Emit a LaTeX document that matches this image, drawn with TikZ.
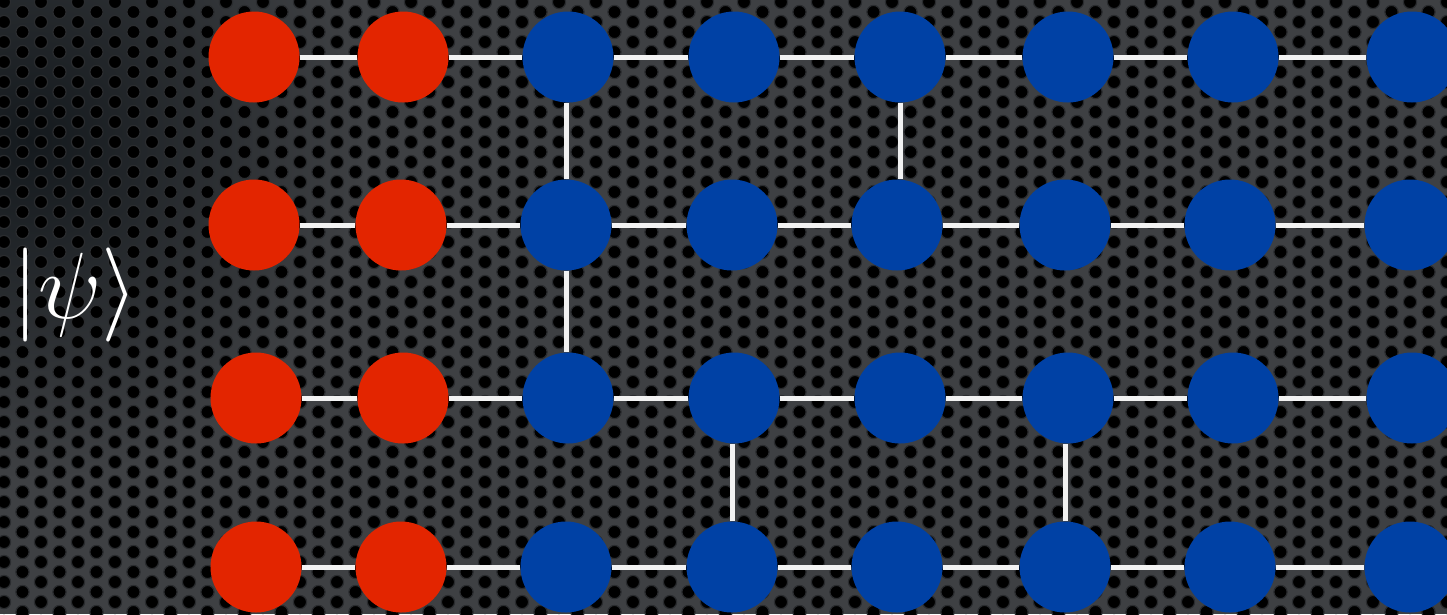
\documentclass[tikz,border=0pt]{standalone}
\usepackage{xcolor}
\definecolor{bgbase}{HTML}{3E4043}
\definecolor{bgdark}{HTML}{14191D}
\definecolor{holerim}{HTML}{2A2C2F}
\definecolor{qred}{HTML}{E32500}
\definecolor{qblue}{HTML}{0041A5}
\definecolor{bond}{HTML}{F2F2F2}
\tikzset{
  qubit/.style={circle, minimum size=91pt, inner sep=0pt, draw=none},
  redq/.style={qubit, fill=qred},
  blueq/.style={qubit, fill=qblue},
  bondline/.style={draw=bond, line width=5pt},
  hole/.style={fill=black, draw=holerim, line width=1.2pt},
}
\begin{document}
\begin{tikzpicture}[x=1pt,y=-1pt]
\useasboundingbox (0,0) rectangle (1447,614);
% background plate
\fill[bgbase] (0,0) rectangle (1447,614);
\begin{scope}
  \clip (0,0) rectangle (1447,614);
  \shade[inner color=bgdark, outer color=bgbase] (30,140) circle (340);
  \foreach \i in {0,...,79}{
    \pgfmathsetmacro{\off}{mod(\i,2)*10}
    \foreach \j in {0,...,31}{
      \fill[hole] (\i*18.5+4, \j*20+\off+2) circle (6.6);
    }
  }
\end{scope}
% qubits
\foreach \c/\x in {1/254,2/403,3/568,4/734,5/900,6/1068,7/1233,8/1412}{
  \node[\ifnum\c<3 redq\else blueq\fi] (a\c) at (\x,57) {};
}
\foreach \c/\x in {1/254,2/401,3/566,4/732,5/897,6/1065,7/1230,8/1410}{
  \node[\ifnum\c<3 redq\else blueq\fi] (b\c) at (\x,225) {};
}
\foreach \c/\x in {1/256,2/403,3/568,4/734,5/900,6/1068,7/1233,8/1412}{
  \node[\ifnum\c<3 redq\else blueq\fi] (c\c) at (\x,398) {};
}
\foreach \c/\x in {1/256,2/401,3/566,4/732,5/897,6/1065,7/1230,8/1410}{
  \node[\ifnum\c<3 redq\else blueq\fi] (d\c) at (\x,567) {};
}
% bonds
\foreach \r in {a,b,c,d}{
  \foreach \c [evaluate=\c as \n using int(\c+1)] in {1,...,7}{
    \draw[bondline] (\r\c) -- (\r\n);
  }
}
\draw[bondline] (b3.north) -- (b3.north |- a3.south);
\draw[bondline] (a5.south) -- (a5.south |- b5.north);
\draw[bondline] (b3.south) -- (b3.south |- c3.north);
\draw[bondline] (d4.north) -- (d4.north |- c4.south);
\draw[bondline] (d6.north) -- (d6.north |- c6.south);
% label
\node[text=white, inner sep=0pt, scale=3.78] (psi) at (75,295) {\Huge$|\psi\rangle$};
\end{tikzpicture}
\end{document}
